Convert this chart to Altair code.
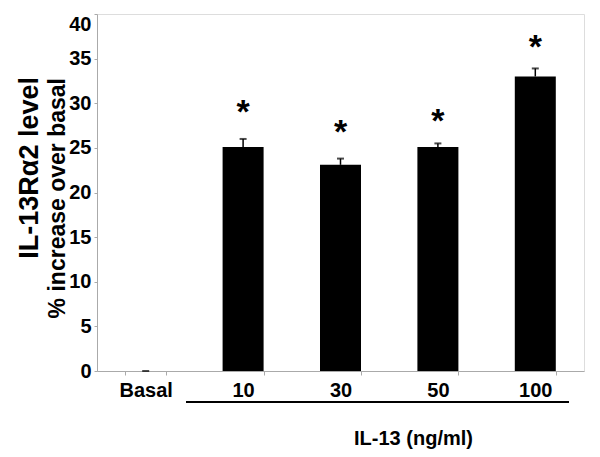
import altair as alt
import pandas as pd

categories = ["Basal", "10", "30", "50", "100"]
values = [0.0, 25.1, 23.1, 25.1, 33.0]
errors = [0.0, 0.9, 0.7, 0.4, 0.9]
stars = ["", "*", "*", "*", "*"]
star_levels = [None, 29.7, 27.4, 28.7, 37.0]
y_title_lines = ["IL-13Rα2 level", "% increase over basal"]
x_title = "IL-13 (ng/ml)"

df = pd.DataFrame({
    "cat": categories,
    "val": values,
    "top": [v + e for v, e in zip(values, errors)],
    "star": stars,
    "star_y": star_levels,
})

FONT = "Liberation Sans"

x = alt.X(
    "cat:N",
    sort=categories,
    scale=alt.Scale(paddingInner=0.58, paddingOuter=0.29),
    axis=alt.Axis(
        title=x_title,
        titleFont=FONT, titleFontSize=20, titleFontWeight="bold", titleColor="black",
        titleX=316, titleY=73, titleBaseline="alphabetic", titleAnchor="start", titleAlign="center",
        labelFont=FONT, labelFontSize=20, labelFontWeight="bold", labelColor="black",
        labelAngle=0, labelPadding=5, tickSize=4, tickBand="extent",
        domainColor="#aaaaaa", tickColor="#aaaaaa",
    ),
)

y_scale = alt.Scale(domain=[0, 40], nice=False)

bars = alt.Chart(df).mark_bar(color="black", size=41).encode(
    x=x,
    y=alt.Y(
        "val:Q",
        scale=y_scale,
        axis=alt.Axis(
            values=[0, 5, 10, 15, 20, 25, 30, 35, 40],
            title=None,
            labelFont=FONT, labelFontSize=20, labelFontWeight="bold", labelColor="black",
            labelBaseline={"condition": {"test": "datum.value == 40", "value": "top"}, "value": "middle"},
            labelPadding=3, tickSize=3, grid=False,
            domainColor="#aaaaaa", tickColor="#aaaaaa",
        ),
    ),
)

stems = alt.Chart(df).mark_rule(color="black", strokeWidth=1.5).encode(
    x=alt.X("cat:N", sort=categories),
    y="val:Q",
    y2="top:Q",
)

caps = alt.Chart(df).mark_tick(color="black", size=7, thickness=2).encode(
    x=alt.X("cat:N", sort=categories),
    y="top:Q",
)

star_text = alt.Chart(df).mark_text(
    font=FONT, fontSize=34, fontWeight="bold", color="black", baseline="middle", dy=7
).encode(
    x=alt.X("cat:N", sort=categories),
    y="star_y:Q",
    text="star:N",
)

underline = alt.Chart(df.head(1)).mark_rule(color="black", strokeWidth=2).encode(
    x=alt.value(89), x2=alt.value(472), y=alt.value(388)
)

title1 = alt.Chart(df.head(1)).mark_text(
    font=FONT, fontSize=27, fontWeight="bold", color="black",
    angle=270, align="right", baseline="alphabetic",
).encode(x=alt.value(-59), y=alt.value(63), text=alt.value(y_title_lines[0]))

title2 = alt.Chart(df.head(1)).mark_text(
    font=FONT, fontSize=23, fontWeight="bold", color="black",
    angle=270, align="right", baseline="alphabetic",
).encode(x=alt.value(-32), y=alt.value(64), text=alt.value(y_title_lines[1]))

chart = alt.layer(bars, stems, caps, star_text, underline, title1, title2).properties(
    width=487,
    height=357,
    autosize=alt.AutoSizeParams(type="none"),
    padding={"left": 89, "top": 6, "right": 8, "bottom": 80},
).configure_view(stroke=None).configure(background="white")

chart.save("out.html", embed_options={"renderer": "svg", "actions": False})
